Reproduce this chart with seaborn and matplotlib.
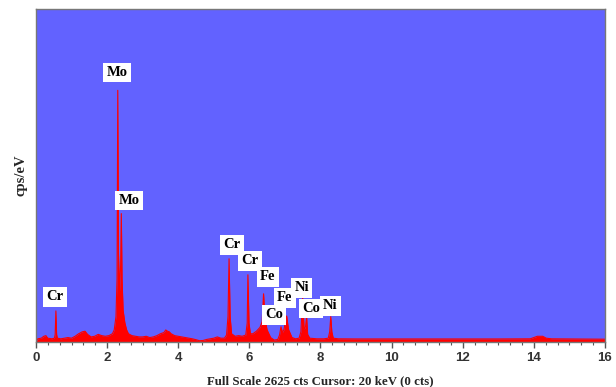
import matplotlib
matplotlib.use("Agg")
import matplotlib.pyplot as plt
import seaborn as sns
import pandas as pd
from matplotlib.ticker import MultipleLocator

# Spectrum samples (energy in keV, counts)
energy = [0.00, 0.05, 0.15, 0.22, 0.28, 0.33, 0.45, 0.52, 0.54, 0.56, 0.58, 0.60,
          0.70, 0.80, 0.90, 1.00, 1.10, 1.20, 1.30, 1.38, 1.45, 1.55, 1.65, 1.75,
          1.85, 1.95, 2.05, 2.15, 2.20, 2.25, 2.28, 2.30, 2.32, 2.35, 2.38, 2.40,
          2.42, 2.45, 2.50, 2.55, 2.60, 2.70, 2.80, 2.90, 3.00, 3.10, 3.20, 3.30,
          3.40, 3.50, 3.60, 3.65, 3.70, 3.75, 3.80, 3.90, 4.00, 4.10, 4.20, 4.30,
          4.40, 4.50, 4.60, 4.70, 4.80, 4.90, 5.00, 5.10, 5.20, 5.30, 5.36, 5.40,
          5.43, 5.46, 5.50, 5.60, 5.70, 5.80, 5.90, 5.94, 5.96, 5.99, 6.03, 6.10,
          6.20, 6.30, 6.36, 6.40, 6.44, 6.50, 6.60, 6.70, 6.80, 6.85, 6.89, 6.93,
          6.97, 7.05, 7.10, 7.20, 7.30, 7.40, 7.45, 7.50, 7.54, 7.58, 7.61, 7.64,
          7.70, 7.90, 8.10, 8.22, 8.26, 8.29, 8.32, 8.36, 8.50, 9.00, 10.00, 11.00,
          12.00, 13.00, 13.90, 14.00, 14.10, 14.25, 14.35, 14.50, 15.00, 16.00]
counts = [0, 25, 30, 45, 50, 30, 25, 30, 60, 245, 60, 30,
          25, 30, 35, 30, 45, 65, 80, 85, 60, 40, 45, 60,
          50, 45, 50, 65, 95, 200, 500, 1984, 700, 400, 600, 1012,
          500, 250, 150, 95, 65, 50, 45, 40, 40, 45, 35, 40,
          50, 65, 75, 95, 85, 80, 65, 50, 45, 40, 35, 30,
          25, 18, 10, 12, 20, 25, 30, 40, 30, 30, 55, 200,
          656, 200, 65, 45, 50, 45, 55, 150, 530, 150, 65, 65,
          85, 115, 160, 380, 180, 95, 35, 15, 20, 55, 120, 75,
          95, 205, 100, 35, 25, 30, 80, 350, 100, 120, 200, 60,
          30, 25, 25, 30, 80, 200, 80, 30, 25, 24, 24, 24,
          24, 24, 25, 35, 45, 45, 30, 25, 24, 22]

# Peak labels
label_text = ["Cr", "Mo", "Mo", "Cr", "Cr", "Fe", "Co", "Fe", "Ni", "Co", "Ni"]
label_x = [0.53, 2.28, 2.62, 5.51, 6.02, 6.52, 6.69, 7.00, 7.48, 7.73, 8.27]
label_y = [355, 2125, 1115, 766, 640, 514, 213, 348, 427, 265, 284]

x_ticks = [0, 2, 4, 6, 8, 10, 12, 14, 16]
full_scale = 2625

df = pd.DataFrame({"energy": energy, "counts": counts})

sns.set_style("ticks")
plt.rcParams["font.family"] = ["Liberation Sans", "DejaVu Sans"]

fig = plt.figure(figsize=(6.16, 3.87), dpi=100)
ax = fig.add_axes([0.0584, 0.1163, 0.9236, 0.8604])
ax.set_facecolor("#6262FF")

sns.lineplot(data=df, x="energy", y="counts", ax=ax, color="#FF0000",
             linewidth=0.8, estimator=None)
ax.fill_between(df["energy"], df["counts"], 0, color="#FF0000", linewidth=0)

for t, x, y in zip(label_text, label_x, label_y):
    ax.text(x, y, t, ha="center", va="center", fontsize=10.5, fontweight="bold",
            family=["Liberation Serif", "DejaVu Serif"], color="black",
            bbox=dict(boxstyle="square,pad=0.22", facecolor="white", edgecolor="none"))

ax.set_xlim(0, 16)
ax.set_ylim(0, full_scale)
ax.set_xticks(x_ticks)
ax.set_xticklabels([str(v) for v in x_ticks])
ax.xaxis.set_minor_locator(MultipleLocator(1 / 3))
ax.set_yticks([])
ax.tick_params(axis="x", which="major", length=4, width=1, color="#555555",
               labelsize=9.5, labelcolor="#333333", pad=3)
ax.tick_params(axis="x", which="minor", length=2.5, width=0.8, color="#555555")
for lab in ax.get_xticklabels():
    lab.set_fontweight("bold")
for s in ax.spines.values():
    s.set_color("#777777")
    s.set_linewidth(1)

ax.set_xlabel("Full Scale 2625 cts Cursor: 20 keV (0 cts)", fontsize=9.3,
              fontweight="bold", family=["Liberation Serif", "DejaVu Serif"], labelpad=8)
ax.set_ylabel("cps/eV", fontsize=10.5, fontweight="bold",
              family=["Liberation Serif", "DejaVu Serif"], labelpad=6)

fig.savefig("out.png", dpi=100, facecolor="white")
